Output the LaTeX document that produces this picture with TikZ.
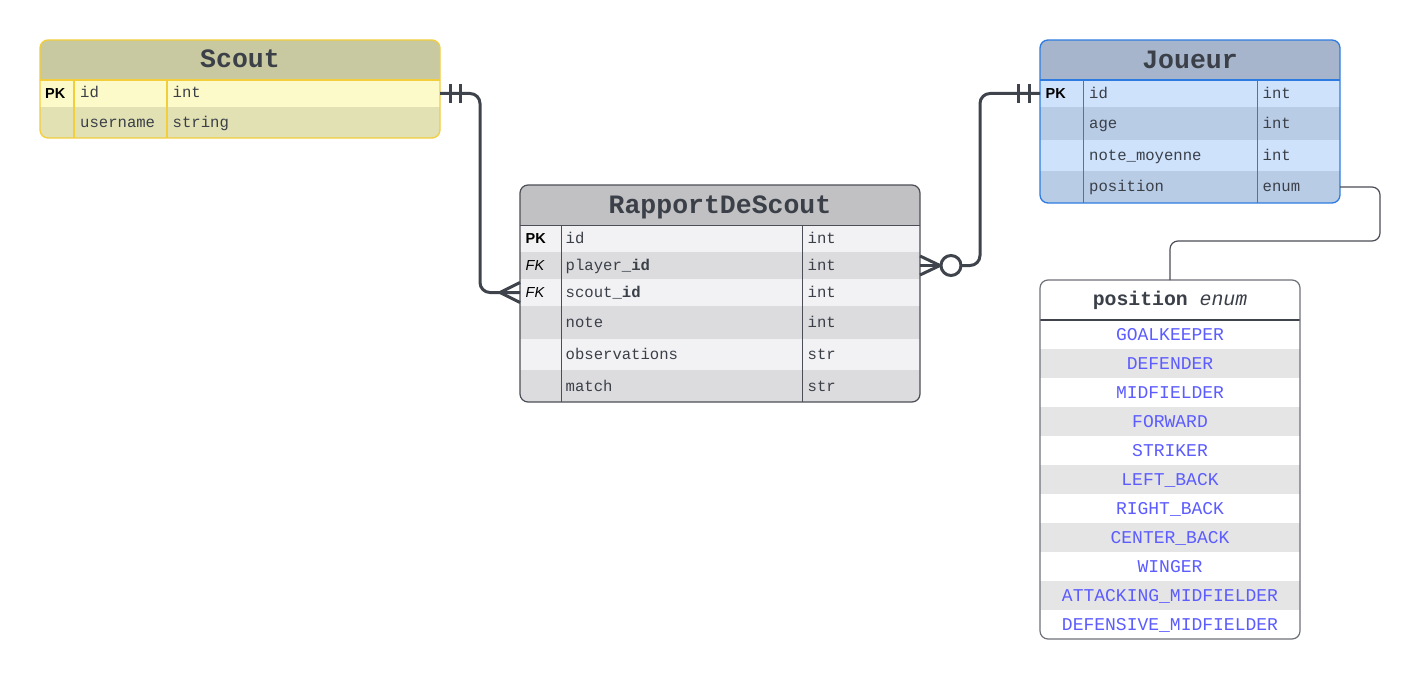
\documentclass[tikz,border=0pt]{standalone}
\usepackage{fontspec}
\usetikzlibrary{calc}
\newfontfamily\monof{Liberation Mono}
\newfontfamily\sansf{Liberation Sans}
\definecolor{txt}{HTML}{3A3F48}
\definecolor{scoutHead}{HTML}{C8C9A0}
\definecolor{scoutRowA}{HTML}{FCFAC9}
\definecolor{scoutRowB}{HTML}{E2E1B4}
\definecolor{scoutBorder}{HTML}{F2CD3C}
\definecolor{rapHead}{HTML}{C1C1C3}
\definecolor{rapRowA}{HTML}{F2F2F4}
\definecolor{rapRowB}{HTML}{DCDCDE}
\definecolor{rapBorder}{HTML}{4B4E56}
\definecolor{jHead}{HTML}{A6B5CB}
\definecolor{jRowA}{HTML}{CEE2FC}
\definecolor{jRowB}{HTML}{B8CCE5}
\definecolor{jBorder}{HTML}{2D7BE0}
\definecolor{enumRowB}{HTML}{E5E5E5}
\definecolor{enumTxt}{HTML}{5C5CFF}
\definecolor{enumBorder}{HTML}{6E7178}
\definecolor{conncol}{HTML}{3F444C}
\tikzset{
  rowtxt/.style={anchor=base west, inner sep=0pt, text=txt, font=\monof\fontsize{15.6}{18}\selectfont},
  keytxt/.style={anchor=base west, inner sep=0pt, text=black, font=\sansf\bfseries\fontsize{14.5}{17}\selectfont},
  fktxt/.style={anchor=base west, inner sep=0pt, text=black, font=\sansf\itshape\fontsize{14.5}{17}\selectfont},
  headtxt/.style={anchor=base, inner sep=0pt, text=txt, font=\monof\bfseries\fontsize{26.5}{30}\selectfont},
  enumtxt/.style={anchor=base, inner sep=0pt, text=enumTxt, font=\monof\fontsize{18}{20}\selectfont},
  enumhead/.style={anchor=base, inner sep=0pt, text=txt, font=\monof\fontsize{19.8}{22}\selectfont},
  relline/.style={draw=conncol, line width=3pt},
  thinline/.style={draw=rapBorder, line width=1.2pt},
}
\begin{document}
\begin{tikzpicture}[x=1pt,y=-1pt]
\useasboundingbox (0,0) rectangle (1421,679);
\fill[white] (0,0) rectangle (1421,679);

% ---------------- Scout ----------------
\begin{scope}
\clip[rounded corners=8] (40,40) rectangle (440,138);
\fill[scoutHead] (40,40) rectangle (440,80);
\fill[scoutRowA] (40,80) rectangle (440,107);
\fill[scoutRowB] (40,107) rectangle (440,138);
\end{scope}
\draw[scoutBorder, line width=1.2pt] (40,80) -- (440,80) (74,80) -- (74,138) (167,80) -- (167,138);
\draw[scoutBorder, line width=1.3pt, rounded corners=8] (40,40) rectangle (440,138);
\node[headtxt] (scout) at (240,68) {Scout};
\node[keytxt] (scout-pk) at (45,98.3) {PK};
\node[rowtxt] (scout-id) at (80,98) {id};
\node[rowtxt] (scout-idt) at (172.5,98) {int};
\node[rowtxt] (scout-user) at (80,128) {username};
\node[rowtxt] (scout-usert) at (172.5,128) {string};

% ---------------- RapportDeScout ----------------
\begin{scope}
\clip[rounded corners=8] (520,185) rectangle (920,402);
\fill[rapHead] (520,185) rectangle (920,225);
\fill[rapRowA] (520,225) rectangle (920,252);
\fill[rapRowB] (520,252) rectangle (920,279);
\fill[rapRowA] (520,279) rectangle (920,306);
\fill[rapRowB] (520,306) rectangle (920,339);
\fill[rapRowA] (520,339) rectangle (920,370);
\fill[rapRowB] (520,370) rectangle (920,402);
\end{scope}
\draw[rapBorder, line width=1pt] (520,225) -- (920,225) (561,225) -- (561,402) (802,225) -- (802,402);
\draw[rapBorder, line width=1.2pt, rounded corners=8] (520,185) rectangle (920,402);
\node[headtxt] (rap) at (720,213.5) {RapportDeScout};
\node[keytxt] (rap-pk) at (525.5,243.5) {PK};
\node[fktxt] (rap-fk1) at (525.5,270.5) {FK};
\node[fktxt] (rap-fk2) at (525.5,297.5) {FK};
\node[rowtxt] (rap-id) at (565.5,243.5) {id};
\node[rowtxt] (rap-player) at (565.5,270.5) {player\_\textbf{id}};
\node[rowtxt] (rap-scout) at (565.5,297.5) {scout\_\textbf{id}};
\node[rowtxt] (rap-note) at (565.5,327.5) {note};
\node[rowtxt] (rap-obs) at (565.5,359.5) {observations};
\node[rowtxt] (rap-match) at (565.5,391) {match};
\node[rowtxt] (rap-idt) at (807.5,243.5) {int};
\node[rowtxt] (rap-playert) at (807.5,270.5) {int};
\node[rowtxt] (rap-scoutt) at (807.5,297.5) {int};
\node[rowtxt] (rap-notet) at (807.5,327.5) {int};
\node[rowtxt] (rap-obst) at (807.5,359.5) {str};
\node[rowtxt] (rap-matcht) at (807.5,391) {str};

% ---------------- Joueur ----------------
\begin{scope}
\clip[rounded corners=8] (1040,40) rectangle (1340,203);
\fill[jHead] (1040,40) rectangle (1340,80);
\fill[jRowA] (1040,80) rectangle (1340,107);
\fill[jRowB] (1040,107) rectangle (1340,140);
\fill[jRowA] (1040,140) rectangle (1340,171);
\fill[jRowB] (1040,171) rectangle (1340,203);
\end{scope}
\draw[jBorder, line width=1.2pt] (1040,80) -- (1340,80) (1083.5,80) -- (1083.5,203) (1257.5,80) -- (1257.5,203);
\draw[jBorder, line width=1.3pt, rounded corners=8] (1040,40) rectangle (1340,203);
\node[headtxt] (joueur) at (1190,68.3) {Joueur};
\node[keytxt] (j-pk) at (1045.5,98.5) {PK};
\node[rowtxt] (j-id) at (1089,98.5) {id};
\node[rowtxt] (j-age) at (1089,128.5) {age};
\node[rowtxt] (j-note) at (1089,160.5) {note\_moyenne};
\node[rowtxt] (j-pos) at (1089,192) {position};
\node[rowtxt] (j-idt) at (1262.5,98.5) {int};
\node[rowtxt] (j-aget) at (1262.5,128.5) {int};
\node[rowtxt] (j-notet) at (1262.5,160.5) {int};
\node[rowtxt] (j-post) at (1262.5,192) {enum};

% ---------------- position enum ----------------
\begin{scope}
\clip[rounded corners=8] (1040,280) rectangle (1300,639);
\fill[white] (1040,280) rectangle (1300,639);
\foreach \k in {1,3,5,7,9} {
  \fill[enumRowB] (1040,320+29*\k) rectangle (1300,349+29*\k);
}
\end{scope}
\draw[conncol, line width=1.2pt] (1040,320) -- (1300,320);
\draw[enumBorder, line width=1.2pt, rounded corners=8] (1040,280) rectangle (1300,639);
\node[enumhead] (enum) at (1170,305.7) {\textbf{position} \textit{enum}};
\foreach \t [count=\k from 0] in {GOALKEEPER,DEFENDER,MIDFIELDER,FORWARD,STRIKER,LEFT\_BACK,RIGHT\_BACK,CENTER\_BACK,WINGER,ATTACKING\_MIDFIELDER,DEFENSIVE\_MIDFIELDER} {
  \node[enumtxt] (enum-\k) at (1170,340.7+29*\k) {\t};
}

% ---------------- connectors ----------------
\coordinate (scoutIdR) at (440,93.5);
\coordinate (rapScoutL) at (520,292.5);
\coordinate (jIdL) at (1040,93.5);
\coordinate (rapPlayerR) at (920,265.5);
\coordinate (jPosR) at (1340,187);
\coordinate (enumTop) at (1170,280);

% Scout -> RapportDeScout (one-and-only-one to many)
\draw[relline, rounded corners=10] (scoutIdR) -| ($(rapScoutL)+(-40,0)$) -- (rapScoutL);
\draw[relline] ($(scoutIdR)+(10,-9.5)$) -- ++(0,19) ($(scoutIdR)+(20,-9.5)$) -- ++(0,19);
\draw[relline] ($(rapScoutL)+(-20,0)$) -- ($(rapScoutL)+(0,-10)$)
               ($(rapScoutL)+(-20,0)$) -- ($(rapScoutL)+(0,10)$);

% Joueur -> RapportDeScout (one-and-only-one to zero-or-many)
\draw[relline, rounded corners=10] (jIdL) -| ($(rapPlayerR)+(60,0)$) -- ($(rapPlayerR)+(41,0)$);
\draw[relline] ($(jIdL)+(-22,-9.5)$) -- ++(0,19) ($(jIdL)+(-11,-9.5)$) -- ++(0,19);
\draw[relline] (rapPlayerR) -- ($(rapPlayerR)+(21,0)$);
\draw[relline] ($(rapPlayerR)+(20,0)$) -- ($(rapPlayerR)+(0,-9.5)$)
               ($(rapPlayerR)+(20,0)$) -- ($(rapPlayerR)+(0,9.5)$);
\draw[relline, fill=white] ($(rapPlayerR)+(31,0)$) circle[radius=10pt];

% Joueur.position -> enum
\draw[thinline, rounded corners=8] (jPosR) -- ++(40,0) |- ($(enumTop)+(0,-39)$) -- (enumTop);
\end{tikzpicture}
\end{document}
